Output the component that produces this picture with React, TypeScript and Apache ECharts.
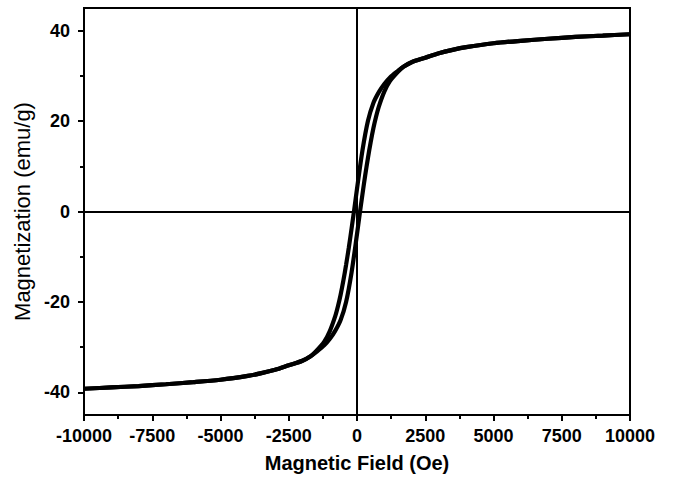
import React, { useEffect, useRef } from "react";
import * as echarts from "echarts";

// Descending branch (from +10000 Oe down to -10000 Oe)
const descField = [10000, 9000, 8000, 7000, 6000, 5000, 4000, 3500, 3000, 2500, 2000, 1700, 1500, 1200, 1000, 800, 600, 400, 200, 0, -100, -200, -300, -400, -500, -600, -700, -800, -1000, -1200, -1500, -1700, -2000, -2500, -3000, -3500, -4000, -5000, -6000, -7000, -8000, -9000, -10000];
const descMag = [39.2, 38.9, 38.6, 38.2, 37.75, 37.2, 36.35, 35.75, 35.0, 34.0, 33.0, 32.0, 31.1, 29.6, 28.2, 26.4, 24.0, 20.0, 13.5, 5.0, 0.5, -3.8, -8.0, -11.8, -15.3, -18.4, -21.0, -23.2, -26.5, -28.8, -30.9, -32.0, -33.0, -34.0, -35.0, -35.75, -36.35, -37.2, -37.75, -38.2, -38.6, -38.9, -39.2];

// Ascending branch (from -10000 Oe up to +10000 Oe)
const ascField = [-10000, -9000, -8000, -7000, -6000, -5000, -4000, -3500, -3000, -2500, -2000, -1700, -1500, -1200, -1000, -800, -600, -400, -200, 0, 100, 200, 300, 400, 500, 600, 700, 800, 1000, 1200, 1500, 1700, 2000, 2500, 3000, 3500, 4000, 5000, 6000, 7000, 8000, 9000, 10000];
const ascMag = [-39.2, -38.9, -38.6, -38.2, -37.75, -37.2, -36.35, -35.75, -35.0, -34.0, -33.0, -32.0, -31.1, -29.6, -28.2, -26.4, -24.0, -20.0, -13.5, -5.0, -0.5, 3.8, 8.0, 11.8, 15.3, 18.4, 21.0, 23.2, 26.5, 28.8, 30.9, 32.0, 33.0, 34.0, 35.0, 35.75, 36.35, 37.2, 37.75, 38.2, 38.6, 38.9, 39.2];

const yMajorTicks = [-40, -20, 0, 20, 40];
const yMinorTicks = [-30, -10, 10, 30];

const FONT = "'Liberation Sans', Arial, Helvetica, sans-serif";

export default function App() {
  const ref = useRef<HTMLDivElement>(null);

  useEffect(() => {
    if (!ref.current) return;
    const chart = echarts.init(ref.current, null, { renderer: "svg" });
    const desc = descField.map((h, i) => [h, descMag[i]]);
    const asc = ascField.map((h, i) => [h, ascMag[i]]);
    const lineStyle = { color: "#000", width: 4.2 };

    chart.setOption({
      animation: false,
      backgroundColor: "#fff",
      grid: {
        left: 84,
        right: 44,
        top: 8,
        bottom: 62,
        show: true,
        borderColor: "#000",
        borderWidth: 2,
        backgroundColor: "transparent",
      },
      xAxis: {
        type: "value",
        min: -10000,
        max: 10000,
        interval: 2500,
        name: "Magnetic Field (Oe)",
        nameLocation: "middle",
        nameGap: 38,
        nameTextStyle: { fontSize: 20, fontWeight: "bold", color: "#000", fontFamily: FONT },
        axisLine: { show: true, onZero: false, lineStyle: { color: "#000", width: 2 } },
        axisTick: { show: true, inside: false, length: 6, lineStyle: { color: "#000", width: 2 } },
        minorTick: { show: true, splitNumber: 2, length: 4, lineStyle: { color: "#000", width: 2 } },
        axisLabel: {
          fontSize: 18,
          fontWeight: "bold",
          color: "#000",
          margin: 12,
          fontFamily: FONT,
          formatter: (v: number) => String(v),
        },
        splitLine: { show: false },
      },
      yAxis: [
        {
          type: "value",
          min: -45,
          max: 45,
          position: "left",
          name: "Magnetization (emu/g)",
          nameLocation: "middle",
          nameGap: 42,
          nameTextStyle: { fontSize: 22, color: "#000", fontFamily: FONT },
          axisLine: { show: true, onZero: false, lineStyle: { color: "#000", width: 2 } },
          axisTick: { show: true, inside: false, length: 6, customValues: yMajorTicks, lineStyle: { color: "#000", width: 2 } },
          axisLabel: {
            customValues: yMajorTicks,
            fontSize: 18,
            fontWeight: "bold",
            color: "#000",
            margin: 14,
            fontFamily: FONT,
            formatter: (v: number) => String(v),
          },
          splitLine: { show: false },
        },
        {
          type: "value",
          min: -45,
          max: 45,
          position: "left",
          offset: 0,
          axisLine: { show: false, onZero: false },
          axisTick: { show: true, inside: false, length: 4, customValues: yMinorTicks, lineStyle: { color: "#000", width: 2 } },
          axisLabel: { show: false, customValues: yMinorTicks },
          splitLine: { show: false },
        },
      ],
      series: [
        {
          type: "line",
          data: desc,
          yAxisIndex: 0,
          showSymbol: false,
          smooth: 0.3,
          lineStyle,
          z: 3,
          markLine: {
            silent: true,
            symbol: "none",
            label: { show: false },
            lineStyle: { color: "#000", width: 2, type: "solid" },
            data: [{ xAxis: 0 }, { yAxis: 0 }],
          },
        },
        {
          type: "line",
          data: asc,
          yAxisIndex: 0,
          showSymbol: false,
          smooth: 0.3,
          lineStyle,
          z: 3,
        },
      ],
    });
    return () => chart.dispose();
  }, []);

  return (
    <div
      ref={ref}
      style={{ position: "fixed", left: 0, top: 0, width: 674, height: 478, background: "#fff" }}
    />
  );
}
